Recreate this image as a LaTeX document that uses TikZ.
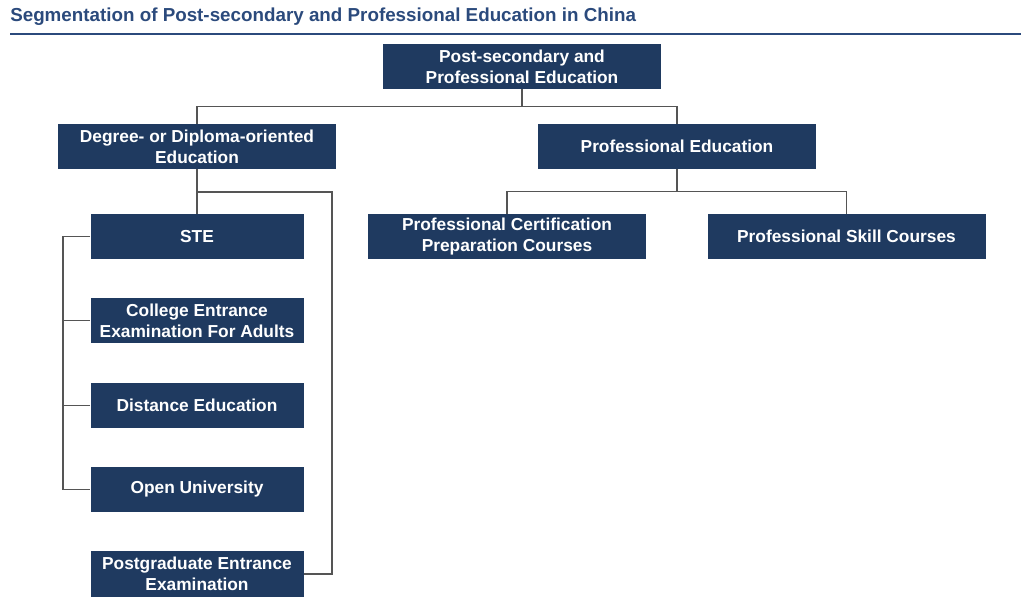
\documentclass[tikz,border=0pt]{standalone}
\usepackage{fontspec}
\setmainfont{Liberation Sans}
\definecolor{navy}{HTML}{1F3A60}
\definecolor{titleblue}{HTML}{2B4A7C}
\definecolor{conn}{HTML}{555555}
\begin{document}
\begin{tikzpicture}[x=0.75pt,y=-0.75pt,
  box/.style={fill=navy,text=white,font=\fontsize{13}{15.7}\selectfont\bfseries,
    align=center,inner sep=0pt,minimum height=33.75pt},
  wide/.style={box,minimum width=208.5pt},
  narrow/.style={box,minimum width=159.75pt},
  link/.style={draw=conn,line width=0.9pt}]
\useasboundingbox (0,0) rectangle (1021,598);
\node[anchor=base west,text=titleblue,font=\fontsize{14.1}{16}\selectfont\bfseries,inner sep=0pt] (title) at (10,22) {Segmentation of Post-secondary and Professional Education in China};
\coordinate (rl) at (10,34);
\coordinate (rr) at (1021,34);
\draw[titleblue,line width=1.6pt] (rl) -- (rr);

\node[wide] (top) at (522,66.5) {Post-secondary and\\Professional Education};
\node[wide] (deg) at (197,146.5) {Degree- or Diploma-oriented\\Education};
\node[wide] (pro) at (677,146.5) {Professional Education};
\node[narrow] (ste) at (197,236.5) {STE};
\node[narrow] (col) at (197,320.5) {College Entrance\\Examination For Adults};
\node[narrow] (dis) at (197,405.5) {Distance Education};
\node[narrow] (opn) at (197,489.5) {Open University};
\node[narrow,minimum height=34.5pt] (pg) at (197,574) {Postgraduate Entrance\\Examination};
\node[wide] (cert) at (507,236.5) {Professional Certification\\Preparation Courses};
\node[wide] (skill) at (846.5,236.5) {Professional Skill Courses};

\begin{scope}[link]
\draw (top.south) -- ++(0,17) -| (deg.north);
\draw (top.south) ++(0,17) -| (pro.north);
\draw (deg.south) -- (ste.north);
\coordinate (rc) at (332,192);
\draw (deg.south |- rc) -- (rc) |- (pg.east);
\draw (pro.south) -- ++(0,22) -| (cert.north);
\draw (pro.south) ++(0,22) -| (skill.north);
\coordinate (lc) at (63,0);
\draw (ste.west) -- (ste.west -| lc) |- (opn.west);
\draw (col.west) -- (col.west -| lc);
\draw (dis.west) -- (dis.west -| lc);
\end{scope}
\end{tikzpicture}
\end{document}
